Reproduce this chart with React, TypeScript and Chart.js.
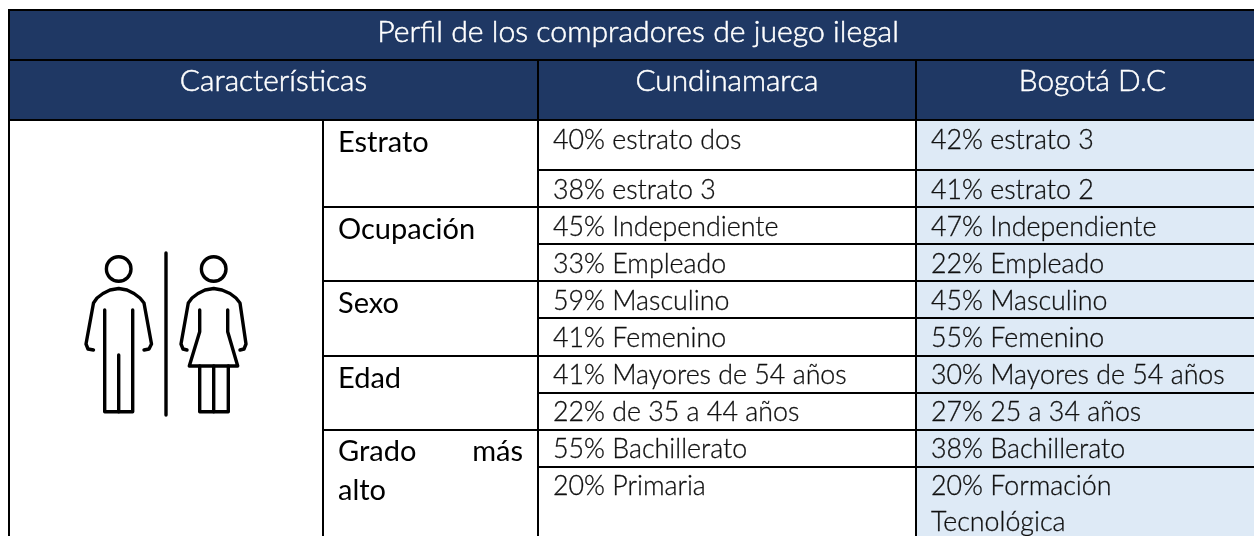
import React, { useEffect, useRef } from "react";
import { Chart, registerables } from "chart.js";

Chart.register(...registerables);

const title = "Perfil de los compradores de juego ilegal";
const columnHeaders = ["Características", "Cundinamarca", "Bogotá D.C"];
const characteristics = ["Estrato", "Ocupación", "Sexo", "Edad"];
const cundinamarca = [
  "40% estrato dos", "38% estrato 3",
  "45% Independiente", "33% Empleado",
  "59% Masculino", "41% Femenino",
  "41% Mayores de 54 años", "22% de 35 a 44 años",
  "55% Bachillerato", "20% Primaria",
];
const bogota = [
  "42% estrato 3", "41% estrato 2",
  "47% Independiente", "22% Empleado",
  "45% Masculino", "55% Femenino",
  "30% Mayores de 54 años", "27% 25 a 34 años",
  "38% Bachillerato", "20% Formación", "Tecnológica",
];

// Table layout (separate from the content above)
const W = 1254, H = 536;
const colX = [9, 323, 538, 916];
const rowLineMajor = [120, 207, 281, 356, 430];
const rowLineMinor = [170, 244, 318, 393, 467];
const titleLineY = 60, topY = 10;
const cellBase = [149, 199, 236, 273, 310, 347, 384, 421, 458, 495, 531];
const labelBase = [152, 239, 313, 388];
const FONT = "Lato";
const NAVY = "#1F3864", PALE = "#DEEAF6", INK = "#101010";
const F_TITLE = "300 30.2px " + FONT, F_HEAD = "300 29.8px " + FONT, F_CELL = "300 26.8px " + FONT, F_LAB = "400 29px " + FONT;

const iconPaths: number[][][] = [
  [[166, 253], [166, 415]],
  [[93.5, 350], [88, 349], [86, 344], [93.5, 303], [97, 298], [103, 293.5], [110, 290], [118.7, 288.5], [127, 290], [134, 293.5], [140, 298], [144, 303], [151.5, 344], [149, 349], [144, 350]],
  [[104.7, 310], [104.7, 411.7], [132.7, 411.7], [132.7, 310]],
  [[118.7, 355], [118.7, 411.7]],
  [[187, 350], [183, 349], [181, 344], [188.3, 303], [192, 298], [198, 293.5], [205, 290], [213.7, 288.5], [222, 290], [230, 293.5], [236, 298], [240, 303], [246, 344], [244, 349], [240, 350]],
  [[199.7, 310], [199.7, 331.7], [189.3, 366], [237.7, 366], [227.7, 331.7], [227.7, 310]],
  [[199.7, 366], [199.7, 411.7], [228.3, 411.7], [228.3, 366]],
  [[213.7, 366], [213.7, 411.7]],
];
const iconHeads = [[118.7, 269], [213.7, 269]];

const tablePlugin = {
  id: "table",
  beforeDraw(chart: any) {
    const { ctx, scales } = chart;
    const X = (v: number) => scales.x.getPixelForValue(v);
    const Y = (v: number) => scales.y.getPixelForValue(v);
    const rect = (x0: number, y0: number, x1: number, y1: number, c: string) => {
      ctx.fillStyle = c;
      ctx.fillRect(X(x0), Y(y0), X(x1) - X(x0), Y(y1) - Y(y0));
    };
    const hline = (x0: number, x1: number, y: number) => rect(x0, y - 1, x1, y + 1, "#000");
    const vline = (x: number, y0: number, y1: number) => rect(x - 1, y0, x + 1, y1, "#000");
    const text = (s: string, x: number, y: number, font: string, color: string, align: string, embolden: number) => {
      ctx.font = font;
      ctx.fillStyle = color;
      ctx.textAlign = align;
      ctx.textBaseline = "alphabetic";
      ctx.fillText(s, X(x), Y(y));
      if (embolden > 0) {
        ctx.strokeStyle = color;
        ctx.lineWidth = embolden;
        ctx.strokeText(s, X(x), Y(y));
      }
    };
    ctx.save();
    rect(0, 0, W, H, "#fff");
    rect(colX[0], topY, W, rowLineMajor[0], NAVY);
    rect(colX[3], rowLineMajor[0], W, H, PALE);

    hline(colX[0] - 1, W, topY);
    hline(colX[0] - 1, W, titleLineY);
    rowLineMajor.forEach((y, i) => hline(i === 0 ? colX[0] - 1 : colX[1] - 1, W, y));
    rowLineMinor.forEach((y) => hline(colX[2] - 1, W, y));
    vline(colX[0], topY, H);
    vline(colX[1], rowLineMajor[0], H);
    vline(colX[2], titleLineY, H);
    vline(colX[3], titleLineY, H);

    text(title, 638, 42, F_TITLE, "#fff", "center", 0.5);
    text(columnHeaders[0], 273.5, 91, F_HEAD, "#fff", "center", 0.5);
    text(columnHeaders[1], 727, 91, F_HEAD, "#fff", "center", 0.5);
    text(columnHeaders[2], 1092.5, 91, F_HEAD, "#fff", "center", 0.5);

    characteristics.forEach((s, i) => text(s, 338, labelBase[i], F_LAB, "#000", "left", 0));
    text("Grado", 338, 461, F_LAB, "#000", "left", 0);
    text("más", 523, 461, F_LAB, "#000", "right", 0);
    text("alto", 338, 500, F_LAB, "#000", "left", 0);

    cundinamarca.forEach((s, i) => text(s, 553, cellBase[i], F_CELL, INK, "left", 0.3));
    bogota.forEach((s, i) => text(s, 931, cellBase[i], F_CELL, INK, "left", 0.3));

    ctx.strokeStyle = "#000";
    ctx.lineWidth = 3.4;
    ctx.lineCap = "round";
    ctx.lineJoin = "round";
    iconPaths.forEach((p) => {
      ctx.beginPath();
      p.forEach(([x, y], i) => (i ? ctx.lineTo(X(x), Y(y)) : ctx.moveTo(X(x), Y(y))));
      ctx.stroke();
    });
    iconHeads.forEach(([x, y]) => {
      ctx.beginPath();
      ctx.arc(X(x), Y(y), 12.3, 0, Math.PI * 2);
      ctx.stroke();
    });
    ctx.restore();
  },
};

export default function App() {
  const ref = useRef<HTMLCanvasElement>(null);
  useEffect(() => {
    const chart = new Chart(ref.current as HTMLCanvasElement, {
      type: "scatter",
      data: { datasets: [{ data: [] }] },
      options: {
        animation: false,
        responsive: false,
        devicePixelRatio: 1,
        layout: { padding: 0 },
        plugins: { legend: { display: false }, title: { display: false }, tooltip: { enabled: false } },
        scales: {
          x: { type: "linear", min: 0, max: W, display: false },
          y: { type: "linear", min: 0, max: H, reverse: true, display: false },
        },
      },
      plugins: [tablePlugin],
    } as any);
    return () => chart.destroy();
  }, []);
  return (
    <div style={{ position: "absolute", left: 0, top: 0, width: W, height: H, overflow: "hidden" }}>
      <canvas ref={ref} width={W} height={H} style={{ display: "block" }} />
    </div>
  );
}
